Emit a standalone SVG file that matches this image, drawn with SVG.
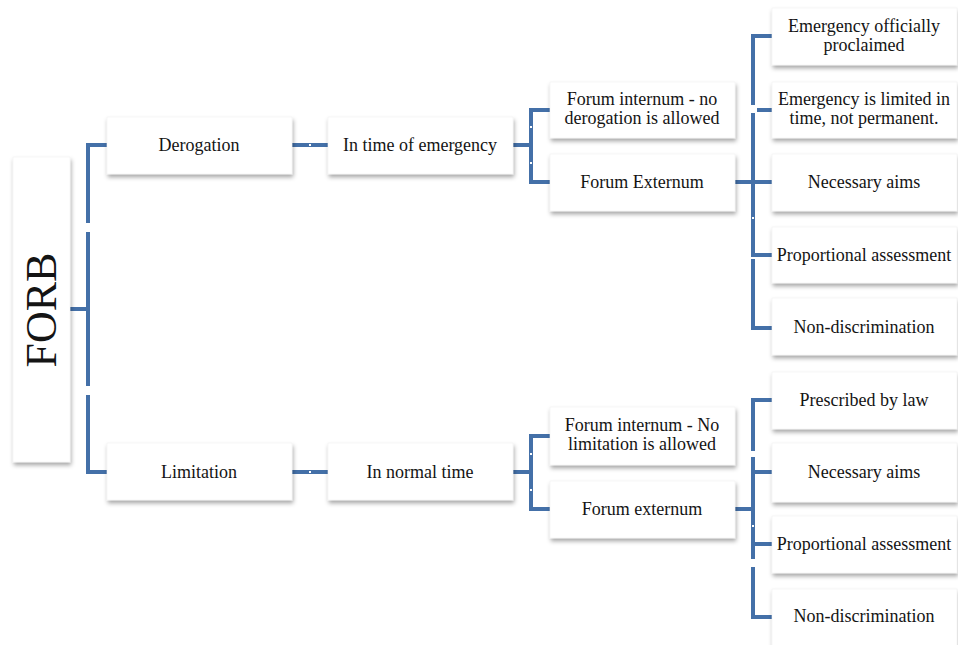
<svg xmlns="http://www.w3.org/2000/svg" width="958" height="645" viewBox="0 0 958 645">
<defs>
<filter id="sh" x="-10%" y="-20%" width="125%" height="150%">
<feDropShadow dx="1" dy="3" stdDeviation="2" flood-color="#000" flood-opacity="0.35"/>
</filter>
<style>
.box{fill:#fff;stroke:#eeeeee;stroke-width:0.5;filter:url(#sh)}
.t{font-family:"Liberation Serif","Times New Roman",serif;font-size:18px;fill:#141414;text-anchor:middle}
.c{fill:none;stroke:#4470A8;stroke-width:4}
.d{fill:#fff}
</style>
</defs>
<rect width="958" height="645" fill="#fff"/>
<g id="connectors">
<path class="c" d="M70,309 H88"/>
<path class="c" d="M107,145 H88 V223"/>
<path class="c" d="M88,232 V386"/>
<path class="c" d="M88,395 V472 H107"/>
<path class="c" d="M292,145 H328"/>
<path class="c" d="M292,472 H328"/>
<path class="c" d="M513,145 H531"/>
<path class="c" d="M550,110 H531 V182 H550"/>
<path class="c" d="M513,472 H531"/>
<path class="c" d="M550,436 H531 V509 H550"/>
<path class="c" d="M772,36 H753 V105"/>
<path class="c" d="M757,110 H772"/>
<path class="c" d="M735,182 H772"/>
<path class="c" d="M753,113 V255 H772"/>
<path class="c" d="M753,259 V328 H772"/>
<path class="c" d="M772,400 H753 V451"/>
<path class="c" d="M735,509 H753"/>
<path class="c" d="M753,457 V559"/>
<path class="c" d="M753,472 H772"/>
<path class="c" d="M753,544 H772"/>
<path class="c" d="M753,567 V617 H772"/>
<rect class="d" x="309" y="144" width="2" height="2"/>
<rect class="d" x="309" y="471" width="2" height="2"/>
<rect class="d" x="530" y="126" width="2" height="2"/>
<rect class="d" x="530" y="162" width="2" height="2"/>
<rect class="d" x="530" y="453" width="2" height="2"/>
<rect class="d" x="530" y="489" width="2" height="2"/>
<rect class="d" x="752" y="217" width="2" height="2"/>
<rect class="d" x="752" y="525" width="2" height="2"/>
</g>
<g id="forb">
<rect class="box" x="13" y="157" width="57" height="305"/>
<text class="t" style="font-size:44px" transform="translate(56,310) rotate(-90)">FORB</text>
</g>
<g id="derogation">
<rect class="box" x="107" y="117" width="185" height="57"/>
<text class="t" x="199" y="151">Derogation</text>
</g>
<g id="limitation">
<rect class="box" x="107" y="443" width="185" height="57"/>
<text class="t" x="199" y="478">Limitation</text>
</g>
<g id="emergency">
<rect class="box" x="328" y="117" width="185" height="57"/>
<text class="t" x="420" y="151">In time of emergency</text>
</g>
<g id="normal">
<rect class="box" x="328" y="443" width="185" height="57"/>
<text class="t" x="420" y="478">In normal time</text>
</g>
<g id="fi-derog">
<rect class="box" x="550" y="82" width="185" height="56"/>
<text class="t" x="642" y="105">Forum internum - no</text>
<text class="t" x="642" y="124">derogation is allowed</text>
</g>
<g id="fe-derog">
<rect class="box" x="550" y="154" width="185" height="57"/>
<text class="t" x="642" y="188">Forum Externum</text>
</g>
<g id="fi-limit">
<rect class="box" x="550" y="407" width="185" height="58"/>
<text class="t" x="642" y="431">Forum internum - No</text>
<text class="t" x="642" y="450">limitation is allowed</text>
</g>
<g id="fe-limit">
<rect class="box" x="550" y="481" width="185" height="57"/>
<text class="t" x="642" y="515">Forum externum</text>
</g>
<g id="proclaimed">
<rect class="box" x="772" y="8" width="185" height="57"/>
<text class="t" x="864" y="32">Emergency officially</text>
<text class="t" x="864" y="51">proclaimed</text>
</g>
<g id="limited-time">
<rect class="box" x="772" y="82" width="185" height="56"/>
<text class="t" x="864" y="105">Emergency is limited in</text>
<text class="t" x="864" y="124">time, not permanent.</text>
</g>
<g id="necessary-1">
<rect class="box" x="772" y="154" width="185" height="57"/>
<text class="t" x="864" y="188">Necessary aims</text>
</g>
<g id="proportional-1">
<rect class="box" x="772" y="227" width="185" height="56"/>
<text class="t" x="864" y="261">Proportional assessment</text>
</g>
<g id="nondisc-1">
<rect class="box" x="772" y="298" width="185" height="57"/>
<text class="t" x="864" y="333">Non-discrimination</text>
</g>
<g id="prescribed">
<rect class="box" x="772" y="372" width="185" height="57"/>
<text class="t" x="864" y="406">Prescribed by law</text>
</g>
<g id="necessary-2">
<rect class="box" x="772" y="443" width="185" height="59"/>
<text class="t" x="864" y="478">Necessary aims</text>
</g>
<g id="proportional-2">
<rect class="box" x="772" y="516" width="185" height="57"/>
<text class="t" x="864" y="550">Proportional assessment</text>
</g>
<g id="nondisc-2">
<rect class="box" x="772" y="589" width="185" height="58"/>
<text class="t" x="864" y="622">Non-discrimination</text>
</g>
</svg>
